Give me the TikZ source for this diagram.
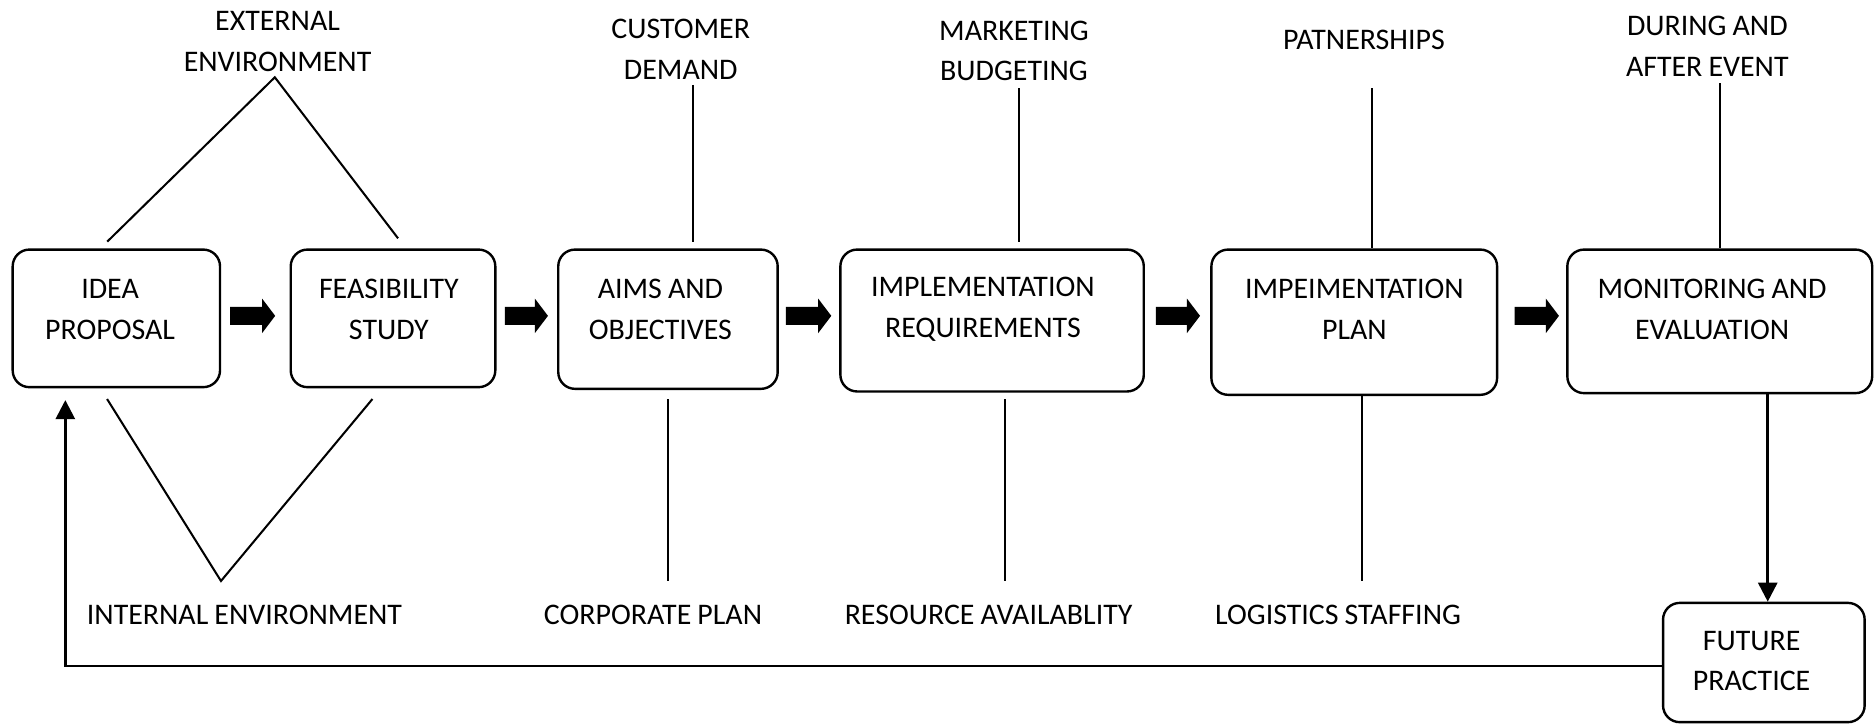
\documentclass[tikz,border=0pt]{standalone}
\usepackage{fontspec}
\setmainfont{Carlito}[WordSpace=0.9]
\usetikzlibrary{calc,arrows.meta}
\tikzset{
  stage/.style={draw, line width=2pt, rounded corners=14pt, inner sep=0pt},
  txt/.style={align=center, inner sep=0pt, font=\fontsize{25}{34}\selectfont},
  link/.style={line width=1.7pt},
  back/.style={line width=2.3pt, -{Triangle[width=16pt,length=16pt]}},
  blk/.style={fill=black},
}
\newcommand\blockarrow[2]{%
  \fill[blk] let \p1=#1, \p2=#2 in
    (\x1,{\y1+7.5pt}) -- ({\x2-11pt},{\y1+7.5pt}) -- ({\x2-11pt},{\y1+14.5pt}) --
    (\x2,\y1) -- ({\x2-11pt},{\y1-14.5pt}) -- ({\x2-11pt},{\y1-7.5pt}) --
    (\x1,{\y1-7.5pt}) -- cycle;}
\begin{document}
\begin{tikzpicture}[x=1pt,y=-1pt]
\useasboundingbox (0,0) rectangle (1568,605);
% stage boxes
\node[stage, minimum width=173.3pt, minimum height=115pt]   (b1) at (97.25,266.1) {};
\node[stage, minimum width=171pt,   minimum height=115pt]   (b2) at (328.5,266.1) {};
\node[stage, minimum width=183.4pt, minimum height=116.4pt] (b3) at (558.3,266.8) {};
\node[stage, minimum width=253.6pt, minimum height=118.6pt] (b4) at (829.2,267.9) {};
\node[stage, minimum width=238.8pt, minimum height=121.4pt] (b5) at (1131.9,269.3) {};
\node[stage, minimum width=254.8pt, minimum height=120pt]   (b6) at (1437.4,268.6) {};
\node[stage, minimum width=168.5pt, minimum height=99.7pt]  (b7) at (1474.25,553.75) {};
% box texts
\node[txt] (t1) at (92,258.5)    {IDEA\\PROPOSAL};
\node[txt] (t2) at (325,258.5)   {FEASIBILITY\\STUDY};
\node[txt] (t3) at (552,258.5)   {AIMS AND\\OBJECTIVES};
\node[txt] (t4) at (821.5,258.5) {IMPLEMENTATION\\REQUIREMENTS};
\node[txt] (t5) at (1132,258.5)  {IMPEIMENTATION\\PLAN};
\node[txt] (t6) at (1431,258.5)  {MONITORING AND\\EVALUATION};
\node[txt] (t7) at (1464,552.6)  {FUTURE\\PRACTICE};
% top labels
\node[txt] (l1) at (232,34.6)    {EXTERNAL\\ENVIRONMENT};
\node[txt] (l2) at (569,41.4)    {CUSTOMER\\DEMAND};
\node[txt] (l3) at (847.5,42.6)  {MARKETING\\BUDGETING};
\node[txt] (l4) at (1140,33.3)   {PATNERSHIPS};
\node[txt] (l5) at (1427,38.8)   {DURING AND\\AFTER EVENT};
% bottom labels
\node[txt] (l6) at (204.3,513.8) {INTERNAL ENVIRONMENT};
\node[txt] (l7) at (545.8,513.8) {CORPORATE PLAN};
\node[txt] (l8) at (826.3,513.8) {RESOURCE AVAILABLITY};
\node[txt] (l9) at (1118.4,513.8){LOGISTICS STAFFING};
% block arrows
\blockarrow{($(b1.east)+(7.4,-2.1)$)}{($(b2.west)+(-12,0)$)}
\blockarrow{($(b2.east)+(7,-2.1)$)}{($(b3.west)+(-7.6,0)$)}
\blockarrow{($(b3.east)+(5.8,-2.8)$)}{($(b4.west)+(-6.6,0)$)}
\blockarrow{($(b4.east)+(9,-3.9)$)}{($(b5.west)+(-8.5,0)$)}
\blockarrow{($(b5.east)+(13.7,-5.3)$)}{($(b6.west)+(-6,0)$)}
% external environment
\coordinate (e1) at (89.6,202);
\coordinate (e0) at (229.7,64.6);
\coordinate (e2) at (332.7,199.2);
\draw[link] (e1) -- (e0) -- (e2);
% internal environment
\coordinate (i1) at (89.5,333.5);
\coordinate (i0) at (184.7,485.6);
\coordinate (i2) at (311.3,333.5);
\draw[link] (i1) -- (i0) -- (i2);
% other factor lines
\coordinate (cd1) at (579.3,71);   \coordinate (cd2) at (579.3,202);
\coordinate (mb1) at (852,73.8);   \coordinate (mb2) at (852,202);
\coordinate (pa1) at (1147,73.8);
\coordinate (da1) at (1437.4,69.6);
\coordinate (cp1) at (558,333.5);  \coordinate (cp2) at (558,485.6);
\coordinate (ra1) at (839.6,333.5);\coordinate (ra2) at (839.6,485.6);
\coordinate (ls2) at (1138.5,485.6);
\draw[link] (cd1) -- (cd2);
\draw[link] (mb1) -- (mb2);
\draw[link] (pa1) -- (b5.north -| pa1);
\draw[link] (da1) -- (b6.north -| da1);
\draw[link] (cp1) -- (cp2);
\draw[link] (ra1) -- (ra2);
\draw[link] (b5.south -| ls2) -- (ls2);
% monitoring -> future practice
\coordinate (mf) at (1477.5,400);
\draw[back] (b6.south -| mf) -- (b7.north -| mf);
% feedback loop
\coordinate (fb) at (54.6,556.7);
\coordinate (ft) at (54.6,334.4);
\draw[back] (b7.west |- fb) -- (fb) -- (ft);
\end{tikzpicture}
\end{document}
